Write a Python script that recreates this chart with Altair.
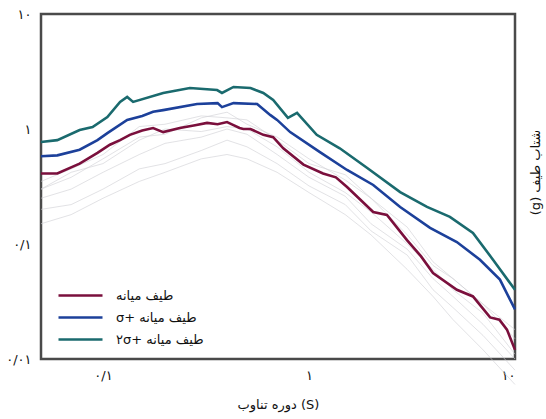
import altair as alt
import pandas as pd

RLE, PDF, LRM = "\u202b", "\u202c", "\u200e"

# ---- data ----
# legend labels, written in the order in which they appear on the page
series_names = ["طیف میانه", "σ+ طیف میانه", "۲σ+ طیف میانه"]
series_colors = ["#7a0f3c", "#1c409a", "#1a6a6e"]

median_T = [0.05, 0.06, 0.077, 0.094, 0.108, 0.121, 0.135, 0.155, 0.175, 0.196, 0.236, 0.28, 0.32, 0.36, 0.40, 0.43, 0.46, 0.48, 0.52, 0.60, 0.67, 0.75, 0.94, 1.17, 1.35, 1.53, 2.05, 2.39, 2.99, 3.5, 4.0, 5.22, 6.25, 7.57, 8.4, 9.14, 10.0]
median_Sa = [0.41, 0.41, 0.50, 0.62, 0.73, 0.80, 0.89, 0.97, 1.02, 0.94, 1.02, 1.08, 1.13, 1.10, 1.15, 1.08, 1.02, 1.00, 1.00, 0.89, 0.85, 0.68, 0.49, 0.41, 0.38, 0.313, 0.19, 0.179, 0.108, 0.078, 0.056, 0.040, 0.035, 0.023, 0.022, 0.018, 0.012]

sigma1_T = [0.05, 0.06, 0.077, 0.094, 0.105, 0.131, 0.155, 0.175, 0.196, 0.286, 0.36, 0.378, 0.43, 0.56, 0.65, 0.70, 0.81, 1.13, 1.53, 2.05, 2.77, 3.87, 5.22, 6.76, 8.45, 10.0]
sigma1_Sa = [0.58, 0.59, 0.66, 0.80, 0.92, 1.20, 1.30, 1.41, 1.46, 1.65, 1.68, 1.55, 1.68, 1.65, 1.32, 1.20, 0.94, 0.63, 0.44, 0.326, 0.21, 0.138, 0.104, 0.073, 0.049, 0.027]

sigma2_T = [0.05, 0.06, 0.077, 0.089, 0.105, 0.121, 0.131, 0.140, 0.196, 0.264, 0.358, 0.378, 0.43, 0.52, 0.55, 0.60, 0.67, 0.79, 0.875, 1.09, 1.41, 1.91, 2.77, 3.74, 4.83, 6.25, 7.82, 10.0]
sigma2_Sa = [0.77, 0.80, 0.98, 1.04, 1.27, 1.72, 1.90, 1.72, 2.06, 2.27, 2.18, 2.06, 2.32, 2.27, 2.18, 2.06, 1.79, 1.25, 1.38, 0.89, 0.68, 0.46, 0.283, 0.21, 0.172, 0.125, 0.073, 0.040]

# individual records (light grey cloud)
record_T = [0.05, 0.07, 0.1, 0.15, 0.2, 0.3, 0.4, 0.5, 0.7, 1.0, 1.5, 2.0, 3.0, 4.0, 5.0, 7.0, 10.0]
records_Sa = [
    [0.30, 0.38, 0.55, 0.85, 0.90, 1.25, 1.40, 1.10, 0.85, 0.55, 0.36, 0.25, 0.14, 0.070, 0.050, 0.030, 0.015],
    [0.25, 0.30, 0.42, 0.60, 0.75, 0.85, 1.00, 0.90, 0.60, 0.38, 0.26, 0.15, 0.09, 0.050, 0.035, 0.020, 0.010],
    [0.35, 0.45, 0.60, 1.05, 1.10, 1.30, 1.25, 1.20, 0.80, 0.50, 0.40, 0.25, 0.12, 0.065, 0.050, 0.030, 0.018],
    [0.20, 0.22, 0.30, 0.45, 0.50, 0.65, 0.80, 0.70, 0.50, 0.32, 0.22, 0.13, 0.08, 0.040, 0.028, 0.016, 0.008],
    [0.30, 0.42, 0.50, 0.80, 1.00, 0.95, 1.05, 1.00, 0.70, 0.42, 0.28, 0.19, 0.10, 0.060, 0.040, 0.025, 0.011],
    [0.15, 0.18, 0.25, 0.35, 0.42, 0.55, 0.60, 0.55, 0.42, 0.28, 0.18, 0.12, 0.06, 0.035, 0.022, 0.012, 0.006],
]

x_ticks = [0.1, 1, 10]
x_tick_labels = ["۰/۱", "۱", "۱۰"]
y_ticks = [0.01, 0.1, 1, 10]
y_tick_labels = ["۰/۰۱", "۰/۱", "۱", "۱۰"]

x_title = "دوره تناوب (S)"
y_title = "شتاب طیف (g)"


def rtl(s):
    return RLE + s + PDF


# ---- tables ----
rows = []
for name, T, S in zip(series_names, [median_T, sigma1_T, sigma2_T], [median_Sa, sigma1_Sa, sigma2_Sa]):
    for t, s in zip(T, S):
        rows.append({"T": t, "Sa": s, "series": LRM + name})
main_df = pd.DataFrame(rows)
legend_domain = [LRM + n for n in series_names]

rec_rows = []
for i, S in enumerate(records_Sa):
    for t, s in zip(record_T, S):
        rec_rows.append({"T": t, "Sa": s, "rec": i})
rec_df = pd.DataFrame(rec_rows)


def label_expr(vals, labs):
    v = "[" + ",".join(repr(x) for x in vals) + "]"
    l = "[" + ",".join("'" + x + "'" for x in labs) + "]"
    return f"{l}[indexof({v}, datum.value)]"


FONT = "DejaVu Sans"
W, H = 474, 345

x_enc = alt.X(
    "T:Q",
    scale=alt.Scale(type="log", domain=[0.05, 10], nice=False),
    axis=alt.Axis(
        values=x_ticks, labelExpr=label_expr(x_ticks, x_tick_labels),
        title=x_title, grid=False, ticks=False, domain=False,
        labelPadding=10, titlePadding=16, labelFontSize=13, titleFontSize=13,
        labelColor="#111", titleColor="#111", labelFont=FONT, titleFont=FONT,
        titleFontWeight="normal",
    ),
)
y_enc = alt.Y(
    "Sa:Q",
    scale=alt.Scale(type="log", domain=[0.01, 10], nice=False),
    axis=alt.Axis(
        values=y_ticks, labelExpr=label_expr(y_ticks, y_tick_labels),
        title=rtl(y_title), grid=False, ticks=False, domain=False,
        labelPadding=10, labelFontSize=13, titleFontSize=13,
        labelColor="#111", titleColor="#111", labelFont=FONT, titleFont=FONT,
        titleFontWeight="normal", titleAngle=270, titleX=W + 20, titleY=158,
        titleAlign="center", titleBaseline="middle",
    ),
)

records = alt.Chart(rec_df).mark_line(color="#cfcfd4", strokeWidth=1, opacity=0.6).encode(
    x=x_enc, y=y_enc, detail="rec:N"
)

lines = alt.Chart(main_df).mark_line(strokeWidth=2.6).encode(
    x=x_enc, y=y_enc,
    color=alt.Color(
        "series:N",
        scale=alt.Scale(domain=legend_domain, range=series_colors),
        sort=legend_domain,
        legend=alt.Legend(
            title=None, orient="none", legendX=27, legendY=269,
            symbolType="M-2,0H2", symbolSize=484, symbolStrokeWidth=2.6,
            labelFontSize=13, labelFont=FONT, labelColor="#111",
            rowPadding=2, labelOffset=23, padding=0,
        ),
    ),
    order=alt.Order("T:Q"),
)

chart = (
    alt.layer(records, lines)
    .properties(
        width=W, height=H,
        background="white",
        autosize=alt.AutoSizeParams(type="none"),
        padding={"left": 41, "top": 14, "right": 31, "bottom": 60},
    )
    .configure_view(stroke="#4a4a4a", strokeWidth=2.5)
)

chart.save("out.html", embed_options={"renderer": "svg", "actions": False})
